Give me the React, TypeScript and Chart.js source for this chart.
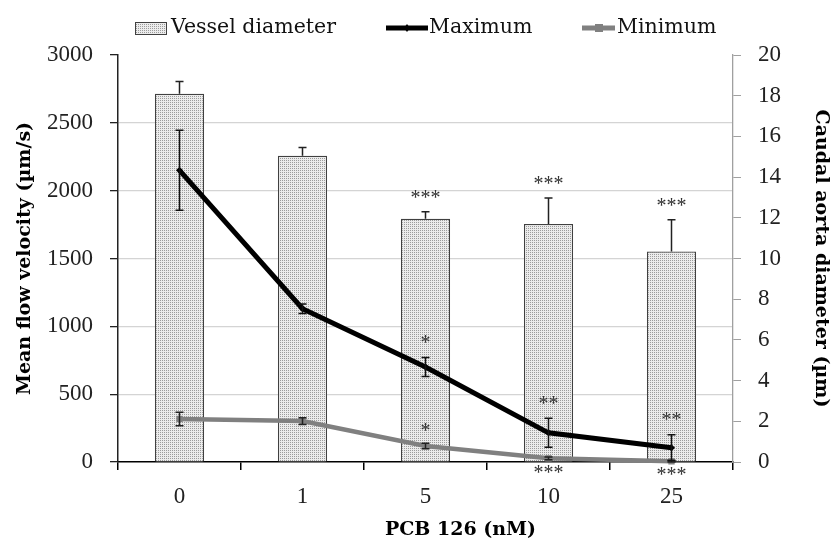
import React, { useEffect, useRef } from 'react';
import { Chart, registerables } from 'chart.js';

Chart.register(...registerables);

const categories = ['0', '1', '5', '10', '25'];
const vesselDiameter = [18.1, 15.05, 11.95, 11.7, 10.35];
const vesselErr = [0.6, 0.4, 0.35, 1.27, 1.55];
const maximum = [2150, 1130, 700, 215, 105];
const maximumErr = [295, 35, 70, 107, 95];
const minimum = [317, 302, 118, 27, 5];
const minimumErr = [50, 25, 20, 10, 8];
const vesselSig = ['', '', '***', '***', '***'];
const maximumSig = ['', '', '*', '**', '**'];
const minimumSigAbove = ['', '', '*', '', ''];
const minimumSigBelow = ['', '', '', '***', '***'];

const TEXT_FONT = '"DejaVu Serif", serif';
const NUM_FONT = '"Liberation Serif", serif';

function makePattern(): CanvasPattern | string {
  const c = document.createElement('canvas');
  c.width = 2;
  c.height = 2;
  const g = c.getContext('2d');
  if (!g) return '#e0e0e0';
  g.fillStyle = '#ececec';
  g.fillRect(0, 0, 2, 2);
  g.fillStyle = '#9c9c9c';
  g.fillRect(0, 0, 1, 1);
  const p = g.createPattern(c, 'repeat');
  return p || '#e0e0e0';
}

const errorPlugin = {
  id: 'errorBarsAndMarks',
  afterDatasetsDraw(chart: any) {
    const ctx = chart.ctx;
    const yL = chart.scales.y;
    const yR = chart.scales.y1;
    const drawErr = (meta: any, vals: number[], errs: number[], scale: any, both: boolean, color: string, cap: number) => {
      ctx.save();
      ctx.strokeStyle = color;
      ctx.lineWidth = 1.5;
      meta.data.forEach((el: any, i: number) => {
        const x = el.x;
        const top = scale.getPixelForValue(vals[i] + errs[i]);
        const bot = both ? scale.getPixelForValue(Math.max(0, vals[i] - errs[i])) : scale.getPixelForValue(vals[i]);
        ctx.beginPath();
        ctx.moveTo(x, top);
        ctx.lineTo(x, bot);
        ctx.moveTo(x - cap / 2, top);
        ctx.lineTo(x + cap / 2, top);
        if (both) {
          ctx.moveTo(x - cap / 2, bot);
          ctx.lineTo(x + cap / 2, bot);
        }
        ctx.stroke();
      });
      ctx.restore();
    };
    drawErr(chart.getDatasetMeta(0), vesselDiameter, vesselErr, yR, false, '#222', 8);
    drawErr(chart.getDatasetMeta(2), minimum, minimumErr, yL, true, '#222', 8);
    drawErr(chart.getDatasetMeta(1), maximum, maximumErr, yL, true, '#111', 8);

    ctx.save();
    ctx.fillStyle = '#333';
    ctx.font = '20px ' + NUM_FONT;
    ctx.textAlign = 'center';
    ctx.textBaseline = 'middle';
    const meta0 = chart.getDatasetMeta(0);
    const meta1 = chart.getDatasetMeta(1);
    const meta2 = chart.getDatasetMeta(2);
    meta0.data.forEach((el: any, i: number) => {
      if (vesselSig[i]) ctx.fillText(vesselSig[i], el.x, yR.getPixelForValue(vesselDiameter[i] + vesselErr[i]) - 13);
    });
    meta1.data.forEach((el: any, i: number) => {
      if (maximumSig[i]) ctx.fillText(maximumSig[i], el.x, yL.getPixelForValue(maximum[i] + maximumErr[i]) - 14);
    });
    meta2.data.forEach((el: any, i: number) => {
      if (minimumSigAbove[i]) ctx.fillText(minimumSigAbove[i], el.x, yL.getPixelForValue(minimum[i] + minimumErr[i]) - 12);
      if (minimumSigBelow[i]) ctx.fillText(minimumSigBelow[i], el.x, yL.getPixelForValue(Math.max(0, minimum[i] - minimumErr[i])) + 14);
    });
    ctx.restore();
  },
  afterDraw(chart: any) {
    const ctx = chart.ctx;
    const area = chart.chartArea;
    ctx.save();
    // x axis title
    ctx.fillStyle = '#000';
    ctx.font = 'bold 19px ' + TEXT_FONT;
    ctx.textAlign = 'center';
    ctx.textBaseline = 'middle';
    ctx.fillText('PCB 126 (nM)', (area.left + area.right) / 2 + 35, 530);

    // legend
    const ly = 28;
    ctx.font = '20.5px ' + TEXT_FONT;
    ctx.textAlign = 'left';
    const ds = chart.data.datasets;
    ctx.fillStyle = ds[0].backgroundColor;
    ctx.fillRect(135, 22, 32, 13);
    ctx.strokeStyle = '#404040';
    ctx.lineWidth = 1;
    ctx.strokeRect(135.5, 22.5, 31, 12);
    ctx.fillStyle = '#111';
    ctx.fillText(ds[0].label, 171, ly);
    // maximum
    ctx.strokeStyle = '#000';
    ctx.lineWidth = 5;
    ctx.beginPath();
    ctx.moveTo(386, ly);
    ctx.lineTo(428, ly);
    ctx.stroke();
    ctx.fillStyle = '#000';
    ctx.beginPath();
    ctx.moveTo(407, ly - 4);
    ctx.lineTo(410, ly);
    ctx.lineTo(407, ly + 4);
    ctx.lineTo(404, ly);
    ctx.closePath();
    ctx.fill();
    ctx.fillStyle = '#111';
    ctx.fillText(ds[1].label, 429, ly);
    // minimum
    ctx.strokeStyle = '#808080';
    ctx.lineWidth = 5;
    ctx.beginPath();
    ctx.moveTo(582, ly);
    ctx.lineTo(615, ly);
    ctx.stroke();
    ctx.fillStyle = '#808080';
    ctx.fillRect(595, ly - 4, 8, 8);
    ctx.fillStyle = '#111';
    ctx.fillText(ds[2].label, 617, ly);
    ctx.restore();
  },
};

export default function App() {
  const ref = useRef<HTMLCanvasElement | null>(null);
  useEffect(() => {
    if (!ref.current) return;
    const pattern = makePattern();
    const chart = new Chart(ref.current, {
      data: {
        labels: categories,
        datasets: [
          {
            type: 'bar',
            label: 'Vessel diameter',
            data: vesselDiameter,
            yAxisID: 'y1',
            backgroundColor: pattern as any,
            borderColor: '#404040',
            borderWidth: 1.3,
            barPercentage: 0.4,
            categoryPercentage: 1,
            order: 3,
          },
          {
            type: 'line',
            label: 'Maximum',
            data: maximum,
            yAxisID: 'y',
            borderColor: '#000',
            backgroundColor: '#000',
            borderWidth: 5,
            pointStyle: 'rectRot',
            pointRadius: 3.5,
            pointBorderWidth: 0,
            tension: 0,
            clip: false as any,
            order: 1,
          },
          {
            type: 'line',
            label: 'Minimum',
            data: minimum,
            yAxisID: 'y',
            borderColor: '#808080',
            backgroundColor: '#808080',
            borderWidth: 4.5,
            pointStyle: 'rect',
            pointRadius: 4.5,
            pointBorderWidth: 0,
            tension: 0,
            clip: false as any,
            order: 2,
          },
        ],
      } as any,
      options: {
        animation: false,
        responsive: true,
        maintainAspectRatio: false,
        layout: { padding: { top: 55, left: 0, right: 0, bottom: 0 } },
        plugins: {
          legend: { display: false },
          tooltip: { enabled: false },
        },
        scales: {
          x: {
            type: 'category',
            offset: true,
            grid: {
              offset: true,
              drawOnChartArea: false,
              drawTicks: true,
              tickLength: 8,
              tickColor: '#000',
              lineWidth: 1.5,
            },
            border: { color: '#000', width: 1.5 },
            ticks: {
              color: '#222',
              font: { family: NUM_FONT, size: 23 },
              padding: 13,
            },
            afterFit: (s: any) => {
              s.height = 79;
            },
          },
          y: {
            type: 'linear',
            position: 'left',
            min: 0,
            max: 3000,
            ticks: {
              stepSize: 500,
              color: '#222',
              font: { family: NUM_FONT, size: 23 },
              padding: 17,
              callback: (v: any) => String(v),
            },
            grid: {
              color: (c: any) => (c.tick && (c.tick.value === 3000 || c.tick.value === 0) ? 'rgba(0,0,0,0)' : '#d4d4d4'),
              lineWidth: 1.3,
              tickLength: 8,
              tickColor: '#222',
            },
            border: { color: '#222', width: 1.5 },
            title: {
              display: true,
              text: 'Mean flow velocity (µm/s)',
              color: '#000',
              font: { family: TEXT_FONT, size: 19, weight: 'bold' },
              padding: { top: 14, bottom: 0 },
            },
            afterFit: (s: any) => {
              s.width = 118;
            },
          },
          y1: {
            type: 'linear',
            position: 'right',
            min: 0,
            max: 20,
            ticks: {
              stepSize: 2,
              color: '#222',
              font: { family: NUM_FONT, size: 23 },
              padding: 17,
            },
            grid: {
              drawOnChartArea: false,
              tickLength: 8,
              tickColor: '#a0a0a0',
            },
            border: { color: '#a0a0a0', width: 1.3 },
            title: {
              display: true,
              text: 'Caudal aorta diameter (µm)',
              color: '#000',
              font: { family: TEXT_FONT, size: 19, weight: 'bold' },
              padding: { top: 0, bottom: 0 },
            },
            afterFit: (s: any) => {
              s.width = 99;
            },
          },
        },
      } as any,
      plugins: [errorPlugin as any],
    });
    return () => chart.destroy();
  }, []);
  return (
    <div style={{ position: 'fixed', left: 0, top: 0, width: 832, height: 541, background: '#fff' }}>
      <canvas ref={ref} />
    </div>
  );
}
